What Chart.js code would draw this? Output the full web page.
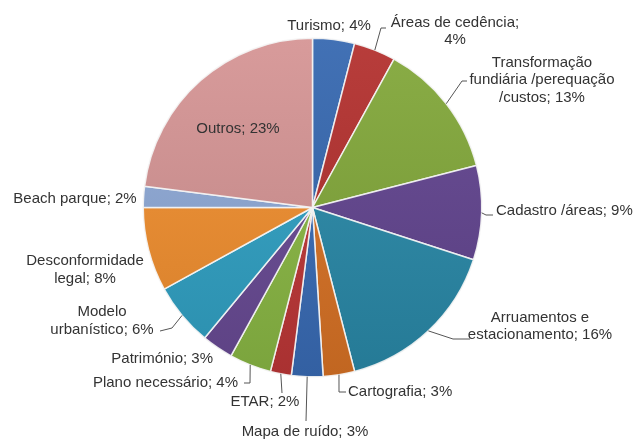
<!DOCTYPE html>
<html>
<head>
<meta charset="utf-8">
<script src="https://cdn.jsdelivr.net/npm/chart.js@4"></script>
<style>
  html, body { margin: 0; padding: 0; background: #fff; }
</style>
</head>
<body>
<canvas id="pie" width="637" height="441"></canvas>
<script>
const categories = [
  "Turismo", "Áreas de cedência", "Transformação fundiária /perequação /custos",
  "Cadastro /áreas", "Arruamentos e estacionamento", "Cartografia", "Mapa de ruído",
  "ETAR", "Plano necessário", "Património", "Modelo urbanístico",
  "Desconformidade legal", "Beach parque", "Outros"
];
const shares = [4, 4, 13, 9, 16, 3, 3, 2, 4, 3, 6, 8, 2, 23];
const colors = [
  "#3668B0", "#B3312F", "#82A83A", "#634590", "#2A8BAA", "#DB7426", "#3A6DB8",
  "#C03838", "#8CBA45", "#6A4B96", "#31A2C6", "#F39030", "#8FAAD8", "#D69595"
];

// where each label sits, where its lines break (word index) and how its leader bends (px)
const layout = [
  { x: 329, y: 26 },
  { x: 455, y: 31.5, br: [3], leader: [[381, 28], [386, 28]] },
  { x: 542, y: 80, br: [1, 3], leader: [[462, 81], [467, 81]] },
  { x: 496, y: 211, align: "left", leader: [[486, 215], [493, 215]] },
  { x: 540, y: 326.5, br: [2], leader: [[453, 339], [470, 339]] },
  { x: 348, y: 392, align: "left", leader: [[339, 392], [346, 392]] },
  { x: 305, y: 432, leader: [[306, 421]] },
  { x: 265, y: 402, leader: [[282, 393]] },
  { x: 238, y: 383, align: "right", leader: [[250, 383], [244, 383]] },
  { x: 213, y: 359, align: "right" },
  { x: 102, y: 321, br: [1], leader: [[172, 328], [160, 331]] },
  { x: 85, y: 270, br: [1] },
  { x: 75, y: 199 },
  { x: 238, y: 129 }
];

function shade(hex, f) {
  const n = parseInt(hex.slice(1), 16);
  let r = n >> 16, g = (n >> 8) & 255, b = n & 255;
  const t = f < 0 ? 0 : 255, p = Math.abs(f);
  r = Math.round(r + (t - r) * p);
  g = Math.round(g + (t - g) * p);
  b = Math.round(b + (t - b) * p);
  return `rgb(${r},${g},${b})`;
}

function splitLines(text, br) {
  if (!br) return [text];
  const words = text.split(" ");
  const lines = [];
  let from = 0;
  br.concat(words.length).forEach(k => {
    lines.push(words.slice(from, k).join(" "));
    from = k;
  });
  return lines;
}

const outsideLabels = {
  id: "outsideLabels",
  afterDatasetsDraw(chart) {
    const ctx = chart.ctx;
    const meta = chart.getDatasetMeta(0);
    ctx.save();
    ctx.font = '15px "Liberation Sans", Arial, sans-serif';
    ctx.fillStyle = "#333333";
    ctx.strokeStyle = "#555555";
    ctx.lineWidth = 1;
    meta.data.forEach((arc, i) => {
      const lay = layout[i];
      const { x, y, startAngle, endAngle, outerRadius } =
        arc.getProps(["x", "y", "startAngle", "endAngle", "outerRadius"], true);
      const mid = (startAngle + endAngle) / 2;
      if (lay.leader) {
        ctx.beginPath();
        ctx.moveTo(x + Math.cos(mid) * outerRadius, y + Math.sin(mid) * outerRadius);
        lay.leader.forEach(p => ctx.lineTo(p[0], p[1]));
        ctx.stroke();
      }
      const lines = splitLines(categories[i] + "; " + shares[i] + "%", lay.br);
      ctx.textAlign = lay.align || "center";
      ctx.textBaseline = "middle";
      const lh = 17.5;
      const y0 = lay.y - (lines.length - 1) * lh / 2;
      lines.forEach((l, k) => ctx.fillText(l, lay.x, y0 + k * lh));
    });
    ctx.restore();
  }
};

new Chart(document.getElementById("pie").getContext("2d"), {
  type: "pie",
  data: {
    labels: categories,
    datasets: [{
      data: shares,
      backgroundColor: (c) => {
        const base = colors[c.dataIndex];
        const area = c.chart.chartArea;
        if (!area) return base;
        const g = c.chart.ctx.createLinearGradient(0, area.top, 0, area.bottom);
        g.addColorStop(0, shade(base, 0.06));
        g.addColorStop(1, shade(base, -0.12));
        return g;
      },
      borderColor: "rgba(245,245,245,0.9)",
      borderWidth: 1.5
    }]
  },
  options: {
    responsive: false,
    animation: false,
    layout: { padding: { left: 142.5, right: 154.5, top: 37.5, bottom: 63.5 } },
    plugins: {
      legend: { display: false },
      tooltip: { enabled: false }
    }
  },
  plugins: [outsideLabels]
});
</script>
</body>
</html>
